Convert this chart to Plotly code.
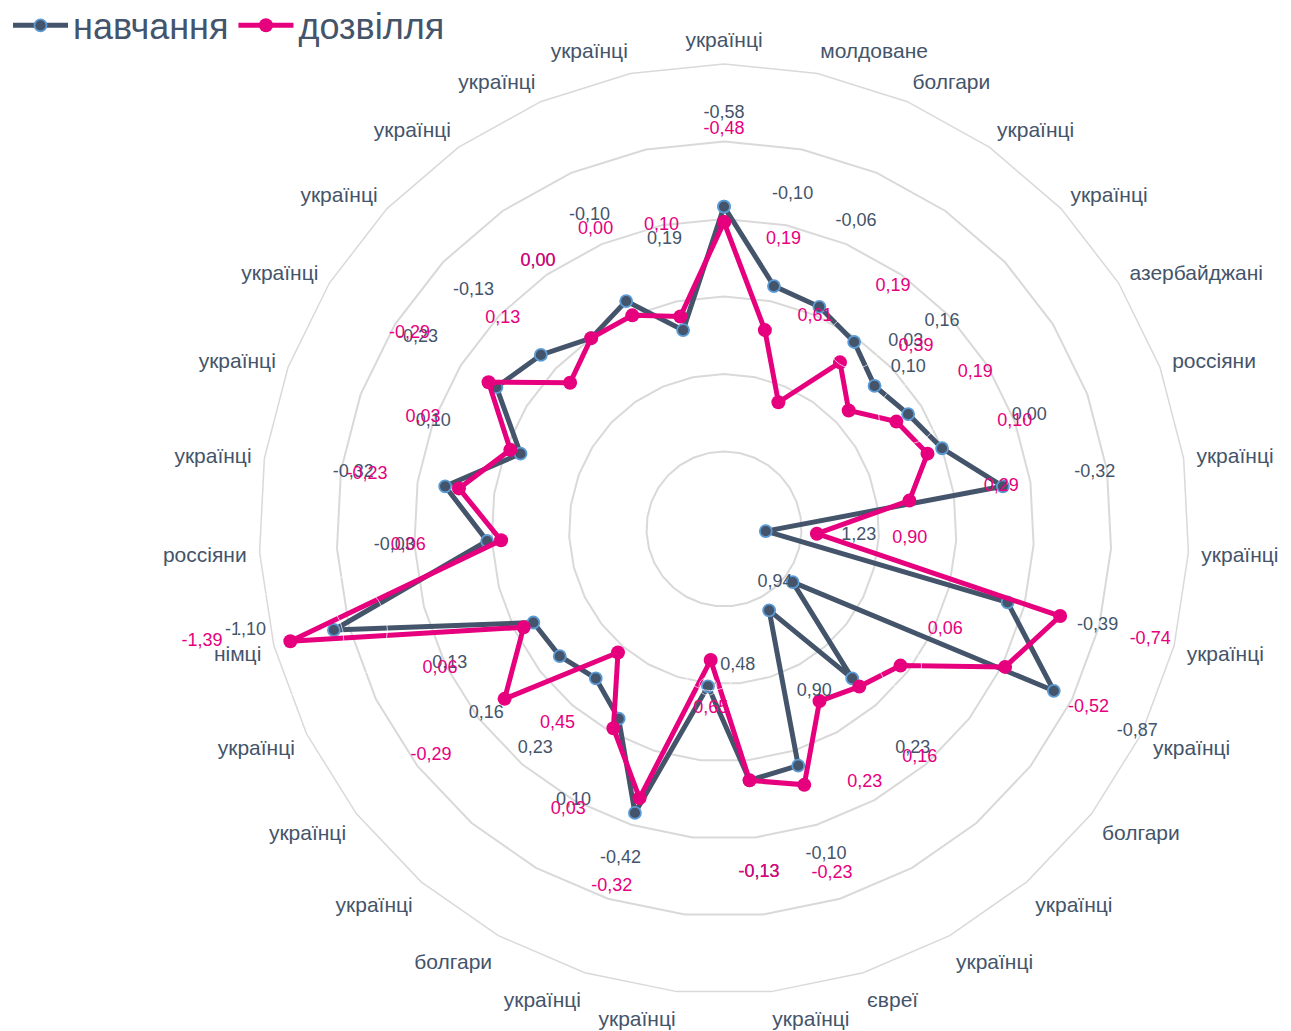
import plotly.graph_objects as go

categories = ["українці", "молдоване", "болгари", "українці", "українці", "азербайджані",
              "россіяни", "українці", "українці", "українці", "українці", "болгари",
              "українці", "українці", "євреї", "українці", "українці", "українці",
              "болгари", "українці", "українці", "українці", "німці", "россіяни",
              "українці", "українці", "українці", "українці", "українці", "українці",
              "українці"]

study = [-0.58, -0.10, -0.06, 0.03, 0.16, 0.10, 0.00, -0.32, 1.23, -0.39, -0.87,
         0.94, 0.23, 0.90, -0.10, -0.13, 0.48, -0.42, 0.10, 0.23, 0.16, 0.13,
         -1.10, -0.03, -0.32, 0.10, -0.23, -0.13, 0.00, -0.10, 0.19]

leisure = [-0.48, 0.19, 0.61, 0.19, 0.39, 0.19, 0.10, 0.29, 0.90, -0.74, -0.52,
           0.06, 0.16, 0.23, -0.23, -0.13, 0.65, -0.32, 0.03, 0.45, -0.29, 0.06,
           -1.39, 0.06, -0.23, 0.03, -0.29, 0.13, 0.00, 0.00, 0.10]

NAVY = "#44546A"
PINK = "#E6007E"
RING = "#D9D9D9"
FONT = "Liberation Sans, Arial, sans-serif"
R_CENTER, R_EDGE = 1.5, -1.5      # radial axis runs from 1.5 (centre) to -1.5 (edge)
LABEL_SHIFT = 0.6                 # default: data labels sit this far outward from their point

# labels that the original places by hand next to their point: (textposition, offset size)
study_label_pins = {3: ("middle right", 53), 5: ("top center", 59), 11: ("middle left", 0),
                    16: ("top right", 18), 22: ("middle left", 107)}
leisure_label_pins = {11: ("top right", 42), 16: ("bottom center", 61),
                      22: ("middle left", 107)}
study_label_shift = {17: 0.31}
leisure_label_shift = {}

DOMAIN = dict(x=[0, 1], y=[0, 1])


def fmt(v):
    return f"{v:.2f}".replace(".", ",")


ids = list(range(len(categories)))
theta_closed = ids + ids[:1]

fig = go.Figure()

# series (main polar, polygon grid)
fig.add_trace(go.Scatterpolar(
    r=study + study[:1], theta=theta_closed, mode="lines+markers", name="навчання",
    line=dict(color=NAVY, width=5),
    marker=dict(size=12, color=NAVY, line=dict(color="#5B9BD5", width=1.8)),
    cliponaxis=True, subplot="polar"))
fig.add_trace(go.Scatterpolar(
    r=leisure + leisure[:1], theta=theta_closed, mode="lines+markers", name="дозвілля",
    line=dict(color=PINK, width=5),
    marker=dict(size=14, color=PINK),
    cliponaxis=True, subplot="polar"))

# data labels (overlaid invisible polar so they are not clipped)
for values, color, pins, shifts in ((study, NAVY, study_label_pins, study_label_shift),
                                    (leisure, PINK, leisure_label_pins, leisure_label_shift)):
    free = [i for i in ids if i not in pins]
    pinned = [i for i in ids if i in pins]
    fig.add_trace(go.Scatterpolar(
        r=[values[i] - shifts.get(i, LABEL_SHIFT) for i in free], theta=free, mode="text",
        text=[fmt(values[i]) for i in free],
        textfont=dict(color=color, size=18, family=FONT),
        showlegend=False, cliponaxis=False, hoverinfo="skip", subplot="polar2"))
    fig.add_trace(go.Scatterpolar(
        r=[values[i] for i in pinned], theta=pinned, mode="markers+text",
        text=[fmt(values[i]) for i in pinned],
        textposition=[pins[i][0] for i in pinned],
        marker=dict(size=[pins[i][1] for i in pinned], color="rgba(0,0,0,0)"),
        textfont=dict(color=color, size=18, family=FONT),
        showlegend=False, cliponaxis=False, hoverinfo="skip", subplot="polar2"))

fig.update_layout(
    width=1283, height=1023,
    margin=dict(l=251, r=102, t=56, b=37),
    paper_bgcolor="white", plot_bgcolor="white",
    font=dict(family=FONT, color=NAVY),
    showlegend=True,
    legend=dict(orientation="h", xref="container", yref="container", x=0.0, y=0.983,
                xanchor="left", yanchor="middle",
                font=dict(size=36, color=NAVY), itemwidth=55,
                bgcolor="rgba(0,0,0,0)"),
    polar=dict(
        domain=DOMAIN,
        bgcolor="white",
        gridshape="linear",
        radialaxis=dict(range=[R_CENTER, R_EDGE], autorange=False, tick0=0, dtick=0.5,
                        showticklabels=False, ticks="", showline=False,
                        gridcolor=RING, gridwidth=1.5),
        angularaxis=dict(type="category", categoryorder="array", categoryarray=ids,
                         direction="clockwise", rotation=90,
                         tickmode="array", tickvals=ids, ticktext=categories,
                         showgrid=False, showline=True, linecolor=RING, linewidth=1.5,
                         ticks="outside", ticklen=8, tickcolor="rgba(0,0,0,0)",
                         tickfont=dict(size=21, color=NAVY, family=FONT)),
    ),
    polar2=dict(
        domain=DOMAIN,
        bgcolor="rgba(0,0,0,0)",
        gridshape="circular",
        radialaxis=dict(range=[R_CENTER, R_EDGE], autorange=False, visible=False),
        angularaxis=dict(type="category", categoryorder="array", categoryarray=ids,
                         direction="clockwise", rotation=90, visible=False),
    ),
)

fig.write_html("out.html")
